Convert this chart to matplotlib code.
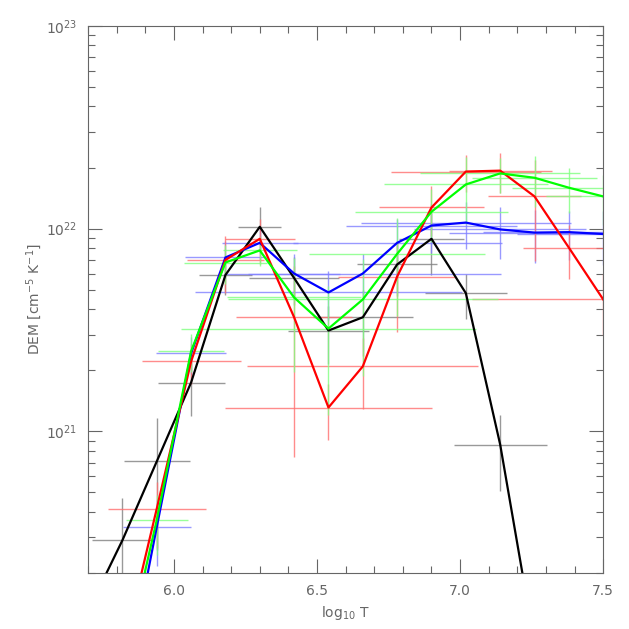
import numpy as np
import matplotlib
matplotlib.use("Agg")
import matplotlib.pyplot as plt
from matplotlib.ticker import MultipleLocator, LogLocator, NullFormatter

# log10 T bins
logt = [5.70, 5.82, 5.94, 6.06, 6.18, 6.30, 6.42, 6.54, 6.66, 6.78, 6.90, 7.02, 7.14, 7.26, 7.38, 7.50]

dem_black = [1.3e20, 2.9e20, 7.1e20, 1.74e21, 5.9e21, 1.02e22, 5.7e21, 3.14e21, 3.65e21, 6.65e21, 8.9e21, 4.8e21, 8.6e20, 9e19, 2e18, 1e17]
xerr_black = [0.10, 0.107, 0.115, 0.117, 0.094, 0.075, 0.156, 0.14, 0.175, 0.14, 0.114, 0.143, 0.163, 0.15, 0.15, 0.15]
yerr_black = [5e19, 1.8e20, 4.5e20, 5.5e20, 1.2e21, 2.6e21, 1.5e21, 1.0e21, 1.3e21, 2.0e21, 3.0e21, 1.2e21, 3.5e20, 3e19, 1e18, 5e16]

dem_red = [1e19, 8e19, 4.15e20, 2.21e21, 7.0e21, 8.9e21, 3.65e21, 1.31e21, 2.09e21, 5.8e21, 1.27e22, 1.91e22, 1.93e22, 1.44e22, 8.05e21, 4.47e21]
xerr_red = [0.10, 0.10, 0.171, 0.173, 0.135, 0.122, 0.203, 0.362, 0.404, 0.206, 0.183, 0.262, 0.18, 0.164, 0.16, 0.458]
yerr_red = [5e18, 3e19, 1.5e20, 5e20, 2.2e21, 2.2e21, 2.9e21, 4e20, 8e20, 2.7e21, 3.5e21, 4e21, 4.4e21, 7.5e21, 2.4e21, 1.5e21]

dem_green = [1e19, 6.6e19, 3.65e20, 2.48e21, 6.8e21, 7.8e21, 4.57e21, 3.21e21, 4.47e21, 7.5e21, 1.21e22, 1.65e22, 1.87e22, 1.78e22, 1.59e22, 1.44e22]
xerr_green = [0.10, 0.10, 0.108, 0.114, 0.145, 0.129, 0.234, 0.517, 0.472, 0.308, 0.266, 0.287, 0.28, 0.22, 0.2, 0.2]
yerr_green = [5e18, 3e19, 1.2e20, 5.3e20, 1.5e21, 1.3e21, 2.6e21, 2.0e21, 2.6e21, 3.8e21, 3.5e21, 6e21, 3.7e21, 5e21, 4e21, 4e21]

dem_blue = [5e18, 4.6e19, 3.37e20, 2.42e21, 7.2e21, 8.5e21, 6.0e21, 4.84e21, 6.0e21, 8.5e21, 1.035e22, 1.07e22, 9.9e21, 9.55e21, 9.6e21, 9.4e21]
xerr_blue = [0.10, 0.10, 0.119, 0.121, 0.14, 0.133, 0.16, 0.468, 0.484, 0.365, 0.3, 0.367, 0.3, 0.3, 0.3, 0.3]
yerr_blue = [3e18, 2e19, 1.2e20, 5e20, 1.5e21, 1.5e21, 1.5e21, 1.3e21, 1.5e21, 2.6e21, 2.8e21, 2.8e21, 2.8e21, 2.8e21, 2.6e21, 2.8e21]

series = [
    (dem_black, xerr_black, yerr_black, 'black', '#808080'),
    (dem_blue, xerr_blue, yerr_blue, 'blue', '#8080ff'),
    (dem_red, xerr_red, yerr_red, 'red', '#ff7070'),
    (dem_green, xerr_green, yerr_green, '#00ff00', '#80ff80'),
]

plt.rcParams['font.family'] = ['DejaVu Sans']
fig = plt.figure(figsize=(6.29, 6.29), dpi=100)
ax = fig.add_axes([0.14, 0.089, 0.819, 0.870])

for dem, xe, ye, col, ecol in series:
    ax.errorbar(logt, dem, xerr=xe, yerr=ye, fmt='none', ecolor=ecol,
                elinewidth=1.0, capsize=0, alpha=0.8)
for dem, xe, ye, col, ecol in series:
    ax.plot(logt, dem, color=col, lw=1.6)

ax.set_yscale('log')
ax.set_xlim(5.7, 7.5)
ax.set_ylim(2e20, 1e23)

gray = '#666666'
ax.xaxis.set_major_locator(MultipleLocator(0.5))
ax.xaxis.set_minor_locator(MultipleLocator(0.1))
ax.yaxis.set_major_locator(LogLocator(base=10))
ax.yaxis.set_minor_locator(LogLocator(base=10, subs=np.arange(2, 10)))
ax.yaxis.set_minor_formatter(NullFormatter())
ax.tick_params(which='both', direction='in', top=True, right=True, colors=gray,
               labelsize=10, width=0.8)
ax.tick_params(which='major', length=10, pad=8)
ax.tick_params(which='minor', length=5)
for sp in ax.spines.values():
    sp.set_color(gray)
    sp.set_linewidth(0.8)

ax.set_xlabel(r'log$_{10}$ T', color=gray, fontsize=10)
ax.set_ylabel(r'DEM [cm$^{-5}$ K$^{-1}$]', color=gray, fontsize=10, labelpad=1)

fig.savefig('out.png', dpi=100)
